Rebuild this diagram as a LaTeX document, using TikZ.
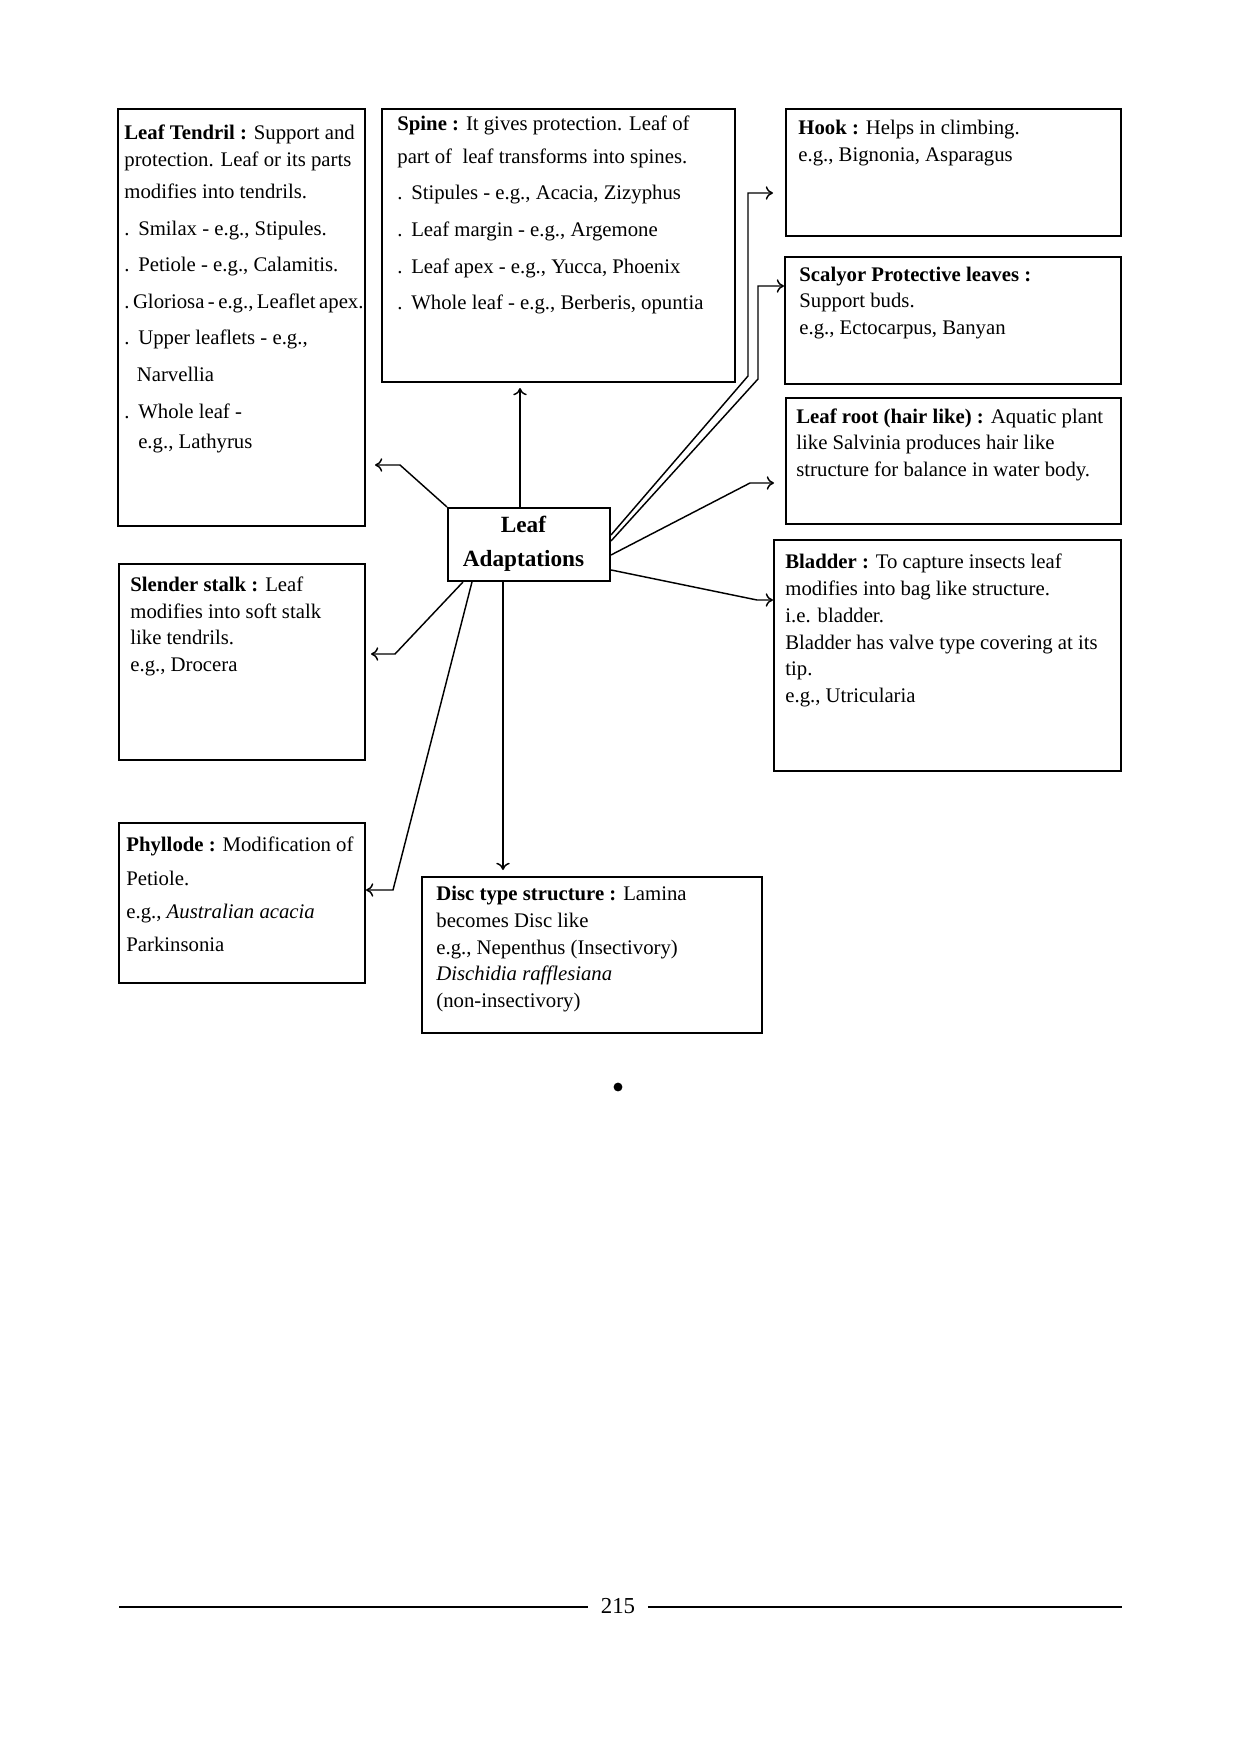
\documentclass[tikz,border=0pt]{standalone}
\usepackage{fontspec}
\setmainfont{Liberation Serif}
\usetikzlibrary{fit,calc,arrows.meta}
\newcommand{\dotitem}{.\hspace{4.2pt}}

\begin{document}
\begin{tikzpicture}[x={(0.169355mm,0)},y={(0,-0.169355mm)},>={To[length=3.5pt,width=6.5pt]},
	box/.style={draw,line width=1pt,inner sep=0pt},
	txt/.style={anchor=base west,inner sep=0pt,align=left,font=\fontsize{10}{13}\selectfont},
	link/.style={line width=0.7pt,->}]
\useasboundingbox (0,0) rectangle (1240,1755);
% boxes
\node[box,fit={(118,109) (365,526)}] (tendril) {};
\node[box,fit={(382,109) (735,382)}] (spine) {};
\node[box,fit={(786,109) (1121,236)}] (hook) {};
\node[box,fit={(785,257) (1121,384)}] (scaly) {};
\node[box,fit={(786,398) (1121,524)}] (leafroot) {};
\node[box,fit={(774,540) (1121,771)}] (bladder) {};
\node[box,fit={(119,564) (365,760)}] (slender) {};
\node[box,fit={(119,823) (365,983)}] (phyllode) {};
\node[box,fit={(422,877) (762,1033)}] (disc) {};
\node[box,fit={(448,508) (610,581)}] (adapt) {};
% texts (anchored on the baseline of their last line)
\node[txt,font=\fontsize{10}{17.6}\selectfont] (tendriltext) at ($(tendril.north west)+(7,341)$)
	{\textbf{Leaf Tendril :} Support and\\[-4.2pt]
	protection. Leaf or its parts\\[-2.2pt]
	modifies into tendrils.\\
	\dotitem Smilax - e.g., Stipules.\\
	\dotitem Petiole - e.g., Calamitis.\\
	.\,Gloriosa\,-\,e.g.,\,Leaflet\,apex.\\
	\dotitem Upper leaflets - e.g.,\\
	\hspace*{6pt}Narvellia\\
	\dotitem Whole leaf -\\[-2.7pt]
	\hspace*{6.7pt}e.g., Lathyrus};
\node[txt,font=\fontsize{10}{17.7}\selectfont] (spinetext) at ($(spine.north west)+(16,202)$)
	{\textbf{Spine :} It gives protection. Leaf of\\[-1.9pt]
	part of\ \ leaf transforms into spines.\\
	\dotitem Stipules - e.g., Acacia, Zizyphus\\
	\dotitem Leaf margin - e.g., Argemone\\
	\dotitem Leaf apex - e.g., Yucca, Phoenix\\
	\dotitem Whole leaf - e.g., Berberis, opuntia};
\node[txt] (hooktext) at ($(hook.north west)+(13,54)$)
	{\textbf{Hook :} Helps in climbing.\\
	e.g., Bignonia, Asparagus};
\node[txt] (scalytext) at ($(scaly.north west)+(15,79)$)
	{\textbf{Scalyor Protective leaves :}\\
	Support buds.\\
	e.g., Ectocarpus, Banyan};
\node[txt] (leafroottext) at ($(leafroot.north west)+(11,80)$)
	{\textbf{Leaf root (hair like) :} Aquatic plant\\
	like Salvinia produces hair like\\
	structure for balance in water body.};
\node[txt] (bladdertext) at ($(bladder.north west)+(12,164)$)
	{\textbf{Bladder :} To capture insects leaf\\
	modifies into bag like structure.\\
	i.e. bladder.\\
	Bladder has valve type covering at its\\
	tip.\\
	e.g., Utricularia};
\node[txt] (slendertext) at ($(slender.north west)+(12,109)$)
	{\textbf{Slender stalk :} Leaf\\
	modifies into soft stalk\\
	like tendrils.\\
	e.g., Drocera};
\node[txt,font=\fontsize{10}{15.9}\selectfont] (phyllodetext) at ($(phyllode.north west)+(8,130)$)
	{\textbf{Phyllode :} Modification of\\[0.9pt]
	Petiole.\\
	e.g., \textit{Australian acacia}\\
	Parkinsonia};
\node[txt] (disctext) at ($(disc.north west)+(15,132)$)
	{\textbf{Disc type structure :} Lamina\\
	becomes Disc like\\
	e.g., Nepenthus (Insectivory)\\
	\textit{Dischidia rafflesiana}\\
	(non-insectivory)};
\node[anchor=base,inner sep=0pt,align=center,font=\bfseries\fontsize{11.2}{16.8}\selectfont]
	(adapttext) at ($(adapt.north)+(-5.5,60)$) {Leaf\\Adaptations};
% connectors
\coordinate (tendrilbend) at (400,465);
\coordinate (tendriltip) at (375,465);
\coordinate (spinetip) at (520,388);
\coordinate (hookbend) at (748,376);
\coordinate (hookturn) at (748,193);
\coordinate (hooktip) at (773,193);
\coordinate (scalybend) at (758,379);
\coordinate (scalyturn) at (758,286);
\coordinate (scalytip) at (784,286);
\coordinate (leafrootbend) at (750,483);
\coordinate (leafroottip) at (774,483);
\coordinate (bladderbend) at (757,600);
\coordinate (slenderbend) at (395,654);
\coordinate (slendertip) at (371,654);
\coordinate (phyllodebend) at (393,890);
\coordinate (disctip) at (503,870);
\draw[link] (adapt.north west) -- (tendrilbend) -- (tendriltip);
\draw[link] (adapt.north -| spinetip) -- (spinetip);
\draw[link] ($(adapt.north east)+(0,28)$) -- (hookbend) -- (hookturn) -- (hooktip);
\draw[link] ($(adapt.north east)+(0,34)$) -- (scalybend) -- (scalyturn) -- (scalytip);
\draw[link] ($(adapt.north east)+(0,48)$) -- (leafrootbend) -- (leafroottip);
\draw[link] ($(adapt.north east)+(0,63)$) -- (bladderbend) -- (bladder.west |- bladderbend);
\draw[link] ($(adapt.south west)+(16,0)$) -- (slenderbend) -- (slendertip);
\draw[link] ($(adapt.south west)+(25,0)$) -- (phyllodebend) -- (phyllode.east |- phyllodebend);
\draw[link] (adapt.south -| disctip) -- (disctip);
% page
\node[circle,fill,inner sep=0pt,minimum size=1.5mm] (dot) at (618,1087) {};
\node[anchor=base,inner xsep=6pt,font=\fontsize{11}{13}\selectfont] (pagenum) at (618,1613) {215};
\coordinate (footleft) at (119,1607);
\coordinate (footright) at (1122,1607);
\draw[line width=1pt] (footleft) -- (footleft -| pagenum.west);
\draw[line width=1pt] (pagenum.east |- footright) -- (footright);
\end{tikzpicture}
\end{document}
